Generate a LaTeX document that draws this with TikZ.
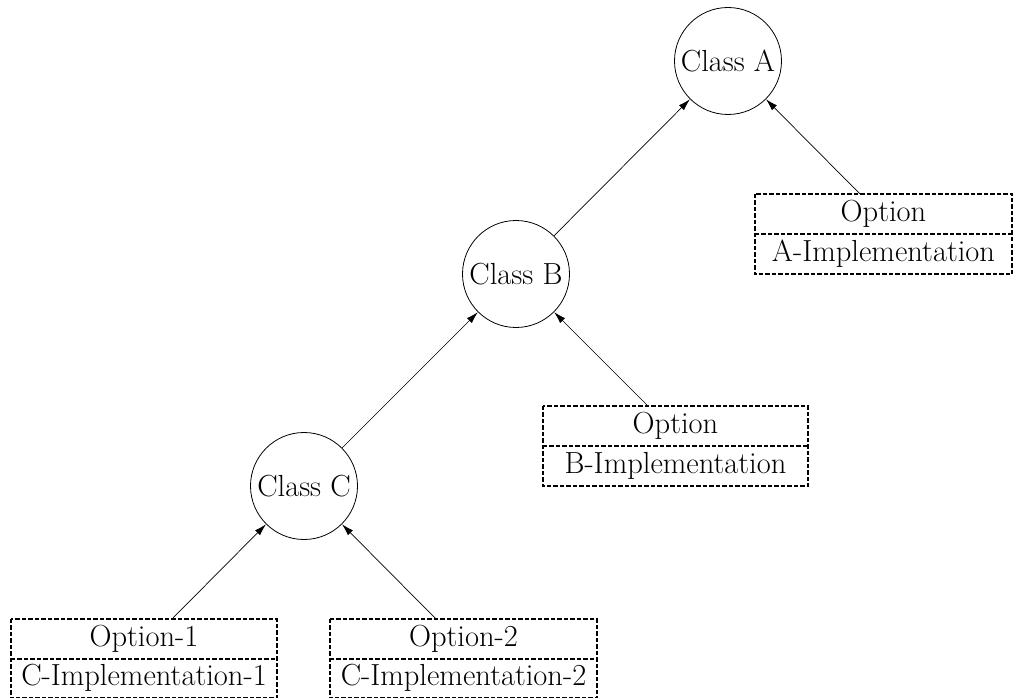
\documentclass[tikz,border=0pt]{standalone}
\usetikzlibrary{arrows.meta}
\begin{document}
\begin{tikzpicture}[x=1pt,y=-1pt,
  txt/.style={font=\fontsize{30.5}{36}\selectfont},
  cls/.style={circle, draw, line width=0.8pt, minimum size=107pt, inner sep=0pt, txt},
  cell/.style={minimum width=#1, minimum height=40pt, inner sep=0pt, txt},
  frame/.style={line width=1.7pt, dash pattern=on 4.5pt off 2pt},
  arr/.style={line width=0.7pt, -{Latex[length=12pt,width=7pt]}}]
\useasboundingbox (0,0) rectangle (1013,698);
% classes
\node[cls] (A) at (728,61) {Class A};
\node[cls] (B) at (516,274) {Class B};
\node[cls] (C) at (304,486) {Class C};
% option box A
\node[cell=257pt] (oa) at (883.5,214) {Option};
\node[cell=257pt] (ia) at (883.5,254) {A-Implementation};
\draw[frame] (oa.north west) rectangle (ia.south east);
\draw[frame] (oa.south west) -- (oa.south east);
% option box B
\node[cell=265pt] (ob) at (675.5,426) {Option};
\node[cell=265pt] (ib) at (675.5,466) {B-Implementation};
\draw[frame] (ob.north west) rectangle (ib.south east);
\draw[frame] (ob.south west) -- (ob.south east);
% option boxes C
\node[cell=266pt] (oc1) at (144,639) {Option-1};
\node[cell=266pt] (ic1) at (144,678) {C-Implementation-1};
\draw[frame] (oc1.north west) rectangle (ic1.south east);
\draw[frame] (oc1.south west) -- (oc1.south east);
\node[cell=267pt] (oc2) at (463.5,639) {Option-2};
\node[cell=267pt] (ic2) at (463.5,678) {C-Implementation-2};
\draw[frame] (oc2.north west) rectangle (ic2.south east);
\draw[frame] (oc2.south west) -- (oc2.south east);
% arrow start points on box tops
\coordinate (sa) at (860,194);
\coordinate (sb) at (648,406);
\coordinate (sc1) at (172,619);
\coordinate (sc2) at (436,619);
% connectors
\draw[arr] (B) -- (A);
\draw[arr] (C) -- (B);
\draw[arr] (sa) -- (A);
\draw[arr] (sb) -- (B);
\draw[arr] (sc1) -- (C);
\draw[arr] (sc2) -- (C);
\end{tikzpicture}
\end{document}
